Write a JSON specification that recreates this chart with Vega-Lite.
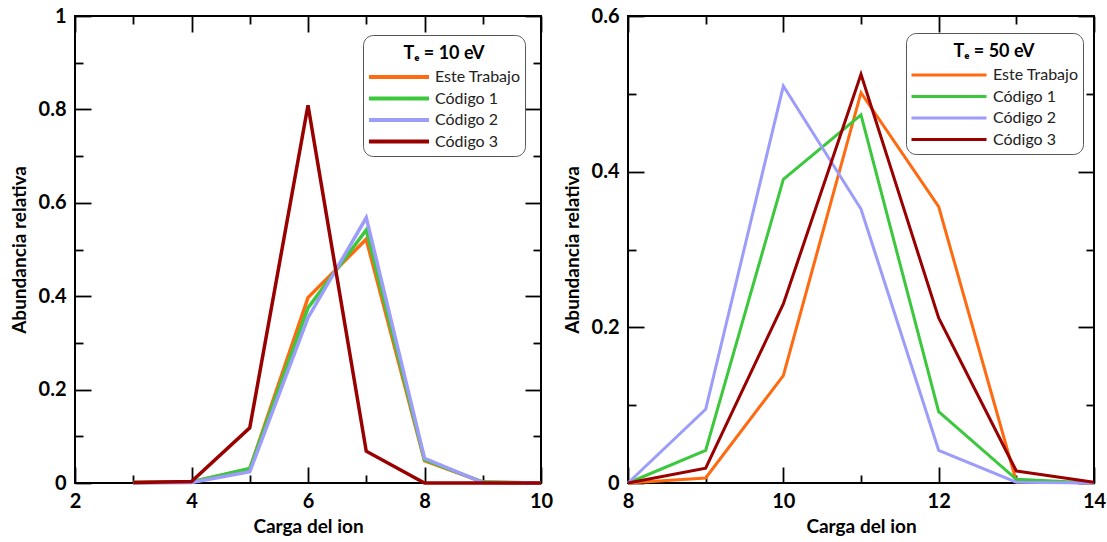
{
  "$schema": "https://vega.github.io/schema/vega-lite/v6.json",
  "background": "white",
  "padding": {"left": 9, "top": 5, "right": 2, "bottom": 0},
  "spacing": 8,
  "datasets": {
    "te10": [
      {"carga": 3, "serie": "Este Trabajo", "valor": 0.001},
      {"carga": 4, "serie": "Este Trabajo", "valor": 0.002},
      {"carga": 5, "serie": "Este Trabajo", "valor": 0.03},
      {"carga": 6, "serie": "Este Trabajo", "valor": 0.397},
      {"carga": 7, "serie": "Este Trabajo", "valor": 0.522},
      {"carga": 8, "serie": "Este Trabajo", "valor": 0.048},
      {"carga": 9, "serie": "Este Trabajo", "valor": 0.002},
      {"carga": 10, "serie": "Este Trabajo", "valor": 0},
      {"carga": 3, "serie": "Código 1", "valor": 0.001},
      {"carga": 4, "serie": "Código 1", "valor": 0.002},
      {"carga": 5, "serie": "Código 1", "valor": 0.031},
      {"carga": 6, "serie": "Código 1", "valor": 0.375},
      {"carga": 7, "serie": "Código 1", "valor": 0.542},
      {"carga": 8, "serie": "Código 1", "valor": 0.05},
      {"carga": 9, "serie": "Código 1", "valor": 0.002},
      {"carga": 10, "serie": "Código 1", "valor": 0},
      {"carga": 3, "serie": "Código 2", "valor": 0},
      {"carga": 4, "serie": "Código 2", "valor": 0.001},
      {"carga": 5, "serie": "Código 2", "valor": 0.024},
      {"carga": 6, "serie": "Código 2", "valor": 0.354},
      {"carga": 7, "serie": "Código 2", "valor": 0.568},
      {"carga": 8, "serie": "Código 2", "valor": 0.053},
      {"carga": 9, "serie": "Código 2", "valor": 0.001},
      {"carga": 10, "serie": "Código 2", "valor": 0},
      {"carga": 3, "serie": "Código 3", "valor": 0.001},
      {"carga": 4, "serie": "Código 3", "valor": 0.003},
      {"carga": 5, "serie": "Código 3", "valor": 0.118},
      {"carga": 6, "serie": "Código 3", "valor": 0.809},
      {"carga": 7, "serie": "Código 3", "valor": 0.068},
      {"carga": 8, "serie": "Código 3", "valor": 0},
      {"carga": 9, "serie": "Código 3", "valor": 0},
      {"carga": 10, "serie": "Código 3", "valor": 0}
    ],
    "te50": [
      {"carga": 8, "serie": "Este Trabajo", "valor": 0},
      {"carga": 9, "serie": "Este Trabajo", "valor": 0.0064},
      {"carga": 10, "serie": "Este Trabajo", "valor": 0.138},
      {"carga": 11, "serie": "Este Trabajo", "valor": 0.5015},
      {"carga": 12, "serie": "Este Trabajo", "valor": 0.355},
      {"carga": 13, "serie": "Este Trabajo", "valor": 0.002},
      {"carga": 14, "serie": "Este Trabajo", "valor": 0},
      {"carga": 8, "serie": "Código 1", "valor": 0},
      {"carga": 9, "serie": "Código 1", "valor": 0.042},
      {"carga": 10, "serie": "Código 1", "valor": 0.39},
      {"carga": 11, "serie": "Código 1", "valor": 0.473},
      {"carga": 12, "serie": "Código 1", "valor": 0.0916},
      {"carga": 13, "serie": "Código 1", "valor": 0.0047},
      {"carga": 14, "serie": "Código 1", "valor": 0},
      {"carga": 8, "serie": "Código 2", "valor": 0},
      {"carga": 9, "serie": "Código 2", "valor": 0.0947},
      {"carga": 10, "serie": "Código 2", "valor": 0.51},
      {"carga": 11, "serie": "Código 2", "valor": 0.352},
      {"carga": 12, "serie": "Código 2", "valor": 0.042},
      {"carga": 13, "serie": "Código 2", "valor": 0.001},
      {"carga": 14, "serie": "Código 2", "valor": 0},
      {"carga": 8, "serie": "Código 3", "valor": 0},
      {"carga": 9, "serie": "Código 3", "valor": 0.019},
      {"carga": 10, "serie": "Código 3", "valor": 0.23},
      {"carga": 11, "serie": "Código 3", "valor": 0.525},
      {"carga": 12, "serie": "Código 3", "valor": 0.212},
      {"carga": 13, "serie": "Código 3", "valor": 0.0154},
      {"carga": 14, "serie": "Código 3", "valor": 0.001}
    ]
  },
  "config": {
    "view": {"stroke": "black", "strokeWidth": 2},
    "font": "Lato",
    "axis": {
      "domain": false,
      "grid": false,
      "labelFlush": false,
      "tickColor": "black",
      "tickWidth": 1.8,
      "labelFont": "Lato",
      "labelFontWeight": "bold",
      "labelFontSize": 20,
      "labelColor": "black",
      "titleFont": "Lato",
      "titleFontSize": 19,
      "titleFontWeight": "bold",
      "titleColor": "black"
    },
    "legend": {
      "orient": "none",
      "titleFont": "Lato",
      "titleFontSize": 18,
      "titleFontWeight": "bold",
      "titleColor": "black",
      "titleAnchor": "middle",
      "titleLineHeight": 6,
      "titlePadding": 4,
      "labelFont": "Lato",
      "labelFontSize": 16,
      "labelColor": "#222222",
      "symbolType": "stroke",
      "symbolOffset": 0,
      "strokeColor": "#555555",
      "fillColor": "white",
      "cornerRadius": 10,
      "padding": 4,
      "clipHeight": 20,
      "rowPadding": 1.5
    }
  },
  "resolve": {"scale": {"color": "independent"}, "legend": {"color": "independent"}},
  "hconcat": [
    {
      "width": 466,
      "height": 467,
      "data": {"name": "te10"},
      "resolve": {"axis": {"x": "independent", "y": "independent"}},
      "layer": [
        {
          "mark": {"type": "line", "strokeWidth": 3.5},
          "encoding": {
            "x": {"field": "carga", "type": "quantitative", "scale": {"domain": [2, 10], "nice": false, "zero": false},
              "axis": {"orient": "bottom", "values": [2, 4, 6, 8, 10], "format": "d", "offset": -16, "tickSize": 16, "labelPadding": 8, "titlePadding": 6, "title": "Carga del ion"}},
            "y": {"field": "valor", "type": "quantitative", "scale": {"domain": [0, 1], "nice": false},
              "axis": {"orient": "left", "values": [0, 0.2, 0.4, 0.6, 0.8, 1], "format": "~g", "offset": -16, "tickSize": 16, "labelPadding": 9, "titlePadding": 9, "title": "Abundancia relativa"}},
            "color": {"field": "serie", "type": "nominal",
              "scale": {"domain": ["Este Trabajo", "Código 1", "Código 2", "Código 3"], "range": ["#FF6A10", "#3CC83C", "#9C9CFA", "#990000"]},
              "legend": {"title": ["", "Tₑ = 10 eV"], "legendX": 288, "legendY": 19, "symbolSize": 3600, "symbolStrokeWidth": 4, "labelOffset": 4}}
          }
        },
        {
          "mark": {"type": "point", "opacity": 0},
          "encoding": {
            "x": {"field": "carga", "type": "quantitative", "scale": {"domain": [2, 10], "nice": false, "zero": false},
              "axis": {"orient": "bottom", "values": [3, 5, 7, 9], "offset": -8, "tickSize": 8, "labels": false, "title": null}},
            "y": {"field": "valor", "type": "quantitative", "scale": {"domain": [0, 1], "nice": false},
              "axis": {"orient": "left", "values": [0.1, 0.3, 0.5, 0.7, 0.9], "offset": -8, "tickSize": 8, "labels": false, "title": null}}
          }
        },
        {
          "mark": {"type": "point", "opacity": 0},
          "encoding": {
            "x": {"field": "carga", "type": "quantitative", "scale": {"domain": [2, 10], "nice": false, "zero": false},
              "axis": {"orient": "top", "values": [2, 4, 6, 8, 10], "offset": -16, "tickSize": 16, "labels": false, "title": null}},
            "y": {"field": "valor", "type": "quantitative", "scale": {"domain": [0, 1], "nice": false},
              "axis": {"orient": "right", "values": [0, 0.2, 0.4, 0.6, 0.8, 1], "offset": -16, "tickSize": 16, "labels": false, "title": null}}
          }
        },
        {
          "mark": {"type": "point", "opacity": 0},
          "encoding": {
            "x": {"field": "carga", "type": "quantitative", "scale": {"domain": [2, 10], "nice": false, "zero": false},
              "axis": {"orient": "top", "values": [3, 5, 7, 9], "offset": -8, "tickSize": 8, "labels": false, "title": null}},
            "y": {"field": "valor", "type": "quantitative", "scale": {"domain": [0, 1], "nice": false},
              "axis": {"orient": "right", "values": [0.1, 0.3, 0.5, 0.7, 0.9], "offset": -8, "tickSize": 8, "labels": false, "title": null}}
          }
        }
      ]
    },
    {
      "width": 466,
      "height": 467,
      "data": {"name": "te50"},
      "resolve": {"axis": {"x": "independent", "y": "independent"}},
      "layer": [
        {
          "mark": {"type": "line", "strokeWidth": 3},
          "encoding": {
            "x": {"field": "carga", "type": "quantitative", "scale": {"domain": [8, 14], "nice": false, "zero": false},
              "axis": {"orient": "bottom", "values": [8, 10, 12, 14], "format": "d", "offset": -16, "tickSize": 16, "labelPadding": 8, "titlePadding": 6, "title": "Carga del ion"}},
            "y": {"field": "valor", "type": "quantitative", "scale": {"domain": [0, 0.6], "nice": false},
              "axis": {"orient": "left", "values": [0, 0.2, 0.4, 0.6], "format": "~g", "offset": -16, "tickSize": 16, "labelPadding": 9, "titlePadding": 9, "title": "Abundancia relativa"}},
            "color": {"field": "serie", "type": "nominal",
              "scale": {"domain": ["Este Trabajo", "Código 1", "Código 2", "Código 3"], "range": ["#FF6A10", "#3CC83C", "#9C9CFA", "#990000"]},
              "legend": {"title": ["", "Tₑ = 50 eV"], "legendX": 278, "legendY": 17, "symbolSize": 5625, "symbolStrokeWidth": 3, "labelOffset": 5}}
          }
        },
        {
          "mark": {"type": "point", "opacity": 0},
          "encoding": {
            "x": {"field": "carga", "type": "quantitative", "scale": {"domain": [8, 14], "nice": false, "zero": false},
              "axis": {"orient": "bottom", "values": [9, 11, 13], "offset": -8, "tickSize": 8, "labels": false, "title": null}},
            "y": {"field": "valor", "type": "quantitative", "scale": {"domain": [0, 0.6], "nice": false},
              "axis": {"orient": "left", "values": [0.1, 0.3, 0.5], "offset": -8, "tickSize": 8, "labels": false, "title": null}}
          }
        },
        {
          "mark": {"type": "point", "opacity": 0},
          "encoding": {
            "x": {"field": "carga", "type": "quantitative", "scale": {"domain": [8, 14], "nice": false, "zero": false},
              "axis": {"orient": "top", "values": [8, 10, 12, 14], "offset": -16, "tickSize": 16, "labels": false, "title": null}},
            "y": {"field": "valor", "type": "quantitative", "scale": {"domain": [0, 0.6], "nice": false},
              "axis": {"orient": "right", "values": [0, 0.2, 0.4, 0.6], "offset": -16, "tickSize": 16, "labels": false, "title": null}}
          }
        },
        {
          "mark": {"type": "point", "opacity": 0},
          "encoding": {
            "x": {"field": "carga", "type": "quantitative", "scale": {"domain": [8, 14], "nice": false, "zero": false},
              "axis": {"orient": "top", "values": [9, 11, 13], "offset": -8, "tickSize": 8, "labels": false, "title": null}},
            "y": {"field": "valor", "type": "quantitative", "scale": {"domain": [0, 0.6], "nice": false},
              "axis": {"orient": "right", "values": [0.1, 0.3, 0.5], "offset": -8, "tickSize": 8, "labels": false, "title": null}}
          }
        }
      ]
    }
  ]
}
